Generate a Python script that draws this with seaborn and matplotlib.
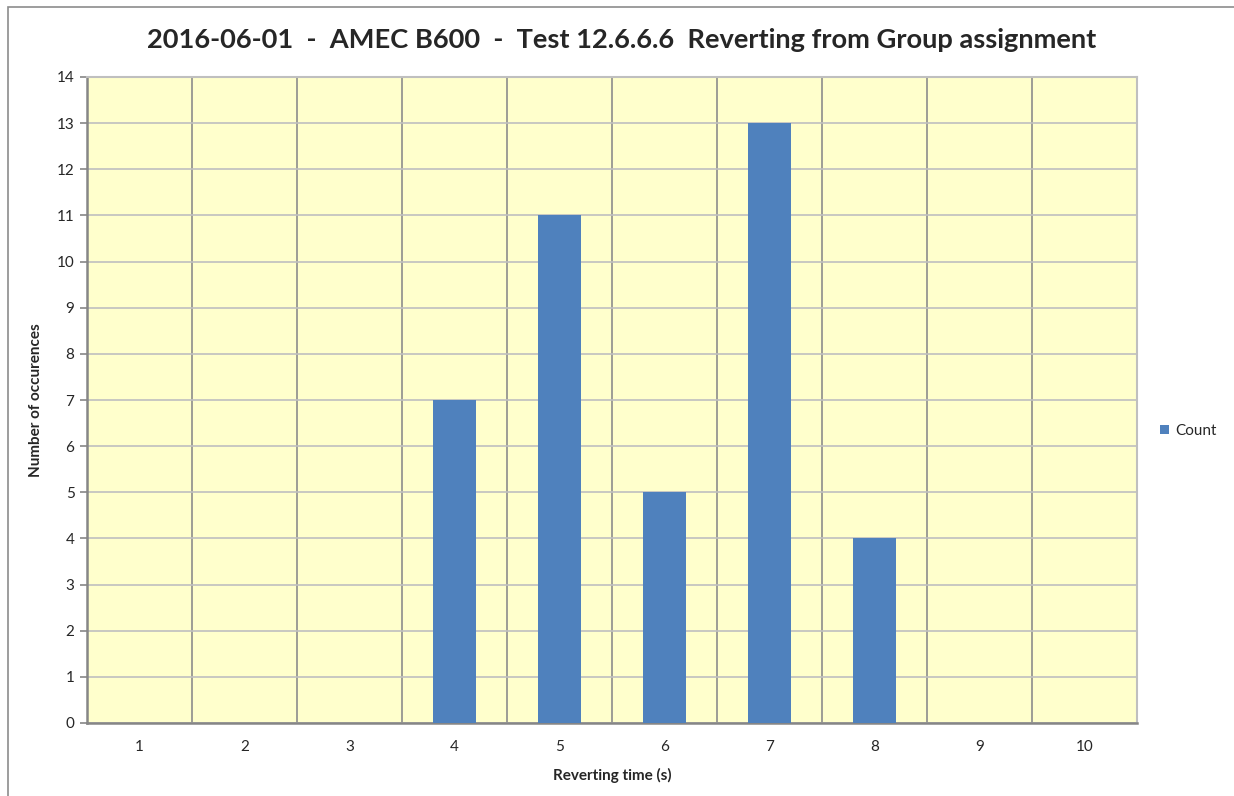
import matplotlib
matplotlib.use("Agg")
import matplotlib.pyplot as plt
from matplotlib.patches import Rectangle
from matplotlib.ticker import FixedLocator
import seaborn as sns
import pandas as pd

# Reverting time histogram data
reverting_time = [1, 2, 3, 4, 5, 6, 7, 8, 9, 10]
count = [0, 0, 0, 7, 11, 5, 13, 4, 0, 0]
y_ticks = list(range(0, 15))

title = "2016-06-01  -  AMEC B600  -  Test 12.6.6.6  Reverting from Group assignment"
x_label = "Reverting time (s)"
y_label = "Number of occurences"
series_name = "Count"

sns.set_style("white")
plt.rcParams["font.family"] = ["Lato", "DejaVu Sans"]

W, H = 1234, 796
fig = plt.figure(figsize=(W / 100, H / 100), dpi=100)
ax = fig.add_axes([87 / W, 1 - 723 / H, (1137 - 87) / W, (723 - 77) / H])

df = pd.DataFrame({"time": [str(t) for t in reverting_time], "count": count})
sns.barplot(data=df, x="time", y="count", color="#4F81BD", saturation=1,
            width=0.41, ax=ax, label=series_name, zorder=3,
            edgecolor="none", linewidth=0)

ax.set_facecolor("#FFFFCC")
ax.set_xlim(-0.5, len(reverting_time) - 0.5)
ax.set_ylim(0, 14)
ax.set_yticks(y_ticks)

# Horizontal gridlines (light) and category-boundary gridlines (darker)
ax.yaxis.grid(True, color="#BFBFBF", linewidth=1.2, zorder=0)
ax.xaxis.set_minor_locator(FixedLocator([i - 0.5 for i in range(len(reverting_time) + 1)]))
ax.xaxis.grid(True, which="minor", color="#8C8C8C", linewidth=1.2, zorder=0)
ax.xaxis.grid(False, which="major")
ax.set_axisbelow(True)

for side in ["left", "bottom"]:
    ax.spines[side].set_color("#868686")
    ax.spines[side].set_linewidth(1.8)
for side in ["right", "top"]:
    ax.spines[side].set_color("#BFBFBF")
    ax.spines[side].set_linewidth(1.5)

ax.tick_params(axis="x", which="major", length=0, pad=12, labelsize=11)
ax.tick_params(axis="x", which="minor", length=5, width=1.2, color="#868686", direction="out")
ax.tick_params(axis="y", length=5, width=1.2, color="#868686", direction="out",
               left=True, pad=4, labelsize=11)

ax.set_xlabel(x_label, fontsize=11, fontweight="bold", labelpad=10)
ax.set_ylabel(y_label, fontsize=11, fontweight="bold", labelpad=10)

fig.text(622 / W, 1 - 40 / H, title, ha="center", va="center",
         fontsize=19.6, fontweight="bold")

ax.legend(loc="center left", bbox_to_anchor=(1160 / W, 1 - 431 / H),
          bbox_transform=fig.transFigure, frameon=False, fontsize=11,
          handlelength=0.6, handleheight=0.6, handletextpad=0.4,
          borderaxespad=0, borderpad=0)

# Outer chart border
fig.patches.append(Rectangle((8 / W, -0.05), 1.2, 1 - 7 / H + 0.05,
                             transform=fig.transFigure, fill=False,
                             edgecolor="#8C8C8C", linewidth=1.2))

fig.savefig("out.png", dpi=100)
